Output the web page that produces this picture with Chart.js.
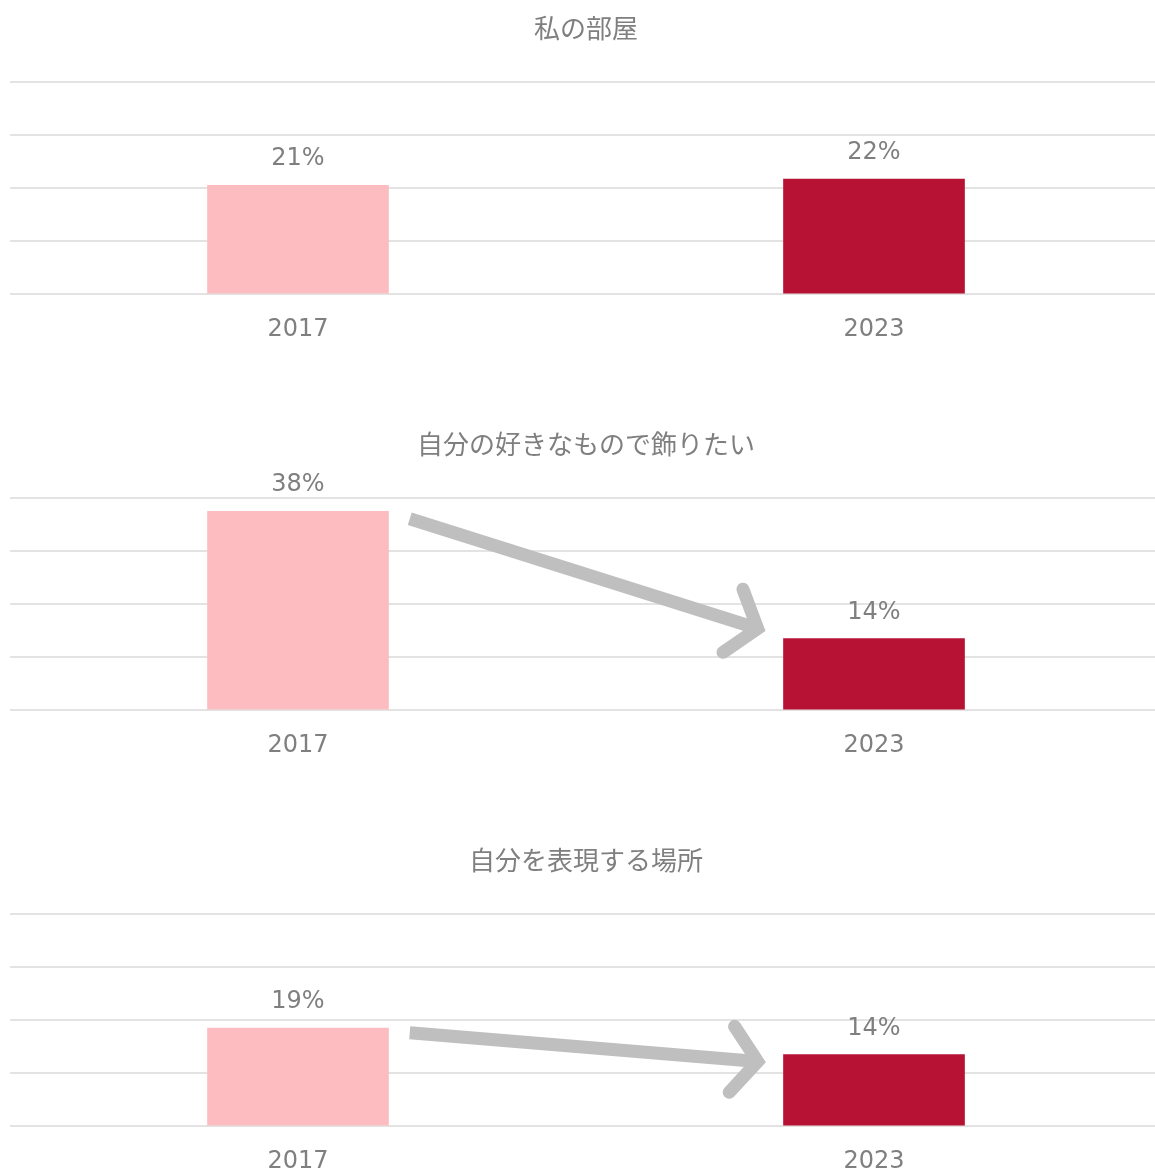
<!DOCTYPE html>
<html><head><meta charset="utf-8">
<script src="https://cdn.jsdelivr.net/npm/chart.js@4"></script>
<style>
html,body{margin:0;padding:0;background:#fff;overflow:hidden;width:1155px;height:1171px}
.wrap{width:1162px;height:416px;position:relative}
canvas{display:block}
</style></head><body>
<div class="wrap"><canvas id="c0" width="1162" height="416"></canvas></div>
<div class="wrap"><canvas id="c1" width="1162" height="416"></canvas></div>
<div class="wrap"><canvas id="c2" width="1162" height="416"></canvas></div>
<script>
const titles = ['私の部屋', '自分の好きなもので飾りたい', '自分を表現する場所'];
const years = ['2017', '2023'];
const values2017 = [20.5, 37.5, 18.5];
const values2023 = [21.7, 13.5, 13.5];
const labels2017 = ['21%', '38%', '19%'];
const labels2023 = ['22%', '14%', '14%'];
// arrow annotations: [category position, percent value]
const arrowFrom = [null, [0.194, 36.1], [0.194, 17.6]];
const arrowTo = [null, [0.798, 15.4], [0.798, 12.2]];
const yMax = 40;
const yStep = 10;

const barColors = ['#FDBDC0', '#B71234'];
const textColor = '#7f7f7f';

const overlay = {
  id: 'overlay',
  afterDatasetsDraw(chart, args, opts) {
    const i = opts.index;
    const ctx = chart.ctx;
    const meta = chart.getDatasetMeta(0);
    const labs = [labels2017[i], labels2023[i]];
    ctx.save();
    ctx.font = '24px "DejaVu Sans"';
    ctx.fillStyle = textColor;
    ctx.textAlign = 'center';
    ctx.textBaseline = 'alphabetic';
    meta.data.forEach((bar, k) => ctx.fillText(labs[k], bar.x, bar.y - 20));
    if (arrowFrom[i]) {
      const xs = chart.scales.x, ys = chart.scales.y;
      const x0 = xs.getPixelForValue(arrowFrom[i][0]), y0 = ys.getPixelForValue(arrowFrom[i][1]);
      const x1 = xs.getPixelForValue(arrowTo[i][0]), y1 = ys.getPixelForValue(arrowTo[i][1]);
      ctx.strokeStyle = '#bfbfbf';
      ctx.lineWidth = 13;
      ctx.lineCap = 'butt';
      ctx.beginPath(); ctx.moveTo(x0, y0); ctx.lineTo(x1, y1); ctx.stroke();
      const a = Math.atan2(y1 - y0, x1 - x0), L = 42, h = 52 * Math.PI / 180;
      ctx.lineCap = 'round'; ctx.lineJoin = 'miter';
      ctx.beginPath();
      ctx.moveTo(x1 - L * Math.cos(a - h), y1 - L * Math.sin(a - h));
      ctx.lineTo(x1, y1);
      ctx.lineTo(x1 - L * Math.cos(a + h), y1 - L * Math.sin(a + h));
      ctx.stroke();
    }
    ctx.restore();
  }
};

titles.forEach((t, i) => {
  new Chart(document.getElementById('c' + i), {
    type: 'bar',
    data: {
      labels: years,
      datasets: [{
        data: [values2017[i], values2023[i]],
        backgroundColor: barColors,
        barThickness: 181,
        borderWidth: 0
      }]
    },
    options: {
      responsive: false,
      animation: false,
      devicePixelRatio: 1,
      layout: { padding: { left: 10, right: 0, top: 0, bottom: 51 } },
      plugins: {
        legend: { display: false },
        tooltip: { enabled: false },
        title: {
          display: true, text: t, color: textColor,
          font: { family: '"Noto Sans CJK JP"', size: 26, weight: 'normal' },
          padding: { top: 12.4, bottom: 38.4 }
        },
        overlay: { index: i }
      },
      scales: {
        x: {
          grid: { display: false, drawTicks: false },
          border: { display: false },
          ticks: { color: textColor, font: { family: '"DejaVu Sans"', size: 24 }, padding: 21 }
        },
        y: {
          min: 0, max: yMax,
          ticks: { display: false, stepSize: yStep },
          grid: { color: '#e3e3e3', lineWidth: 2, drawTicks: false },
          border: { display: false }
        }
      }
    },
    plugins: [overlay]
  });
});
</script>
</body></html>
